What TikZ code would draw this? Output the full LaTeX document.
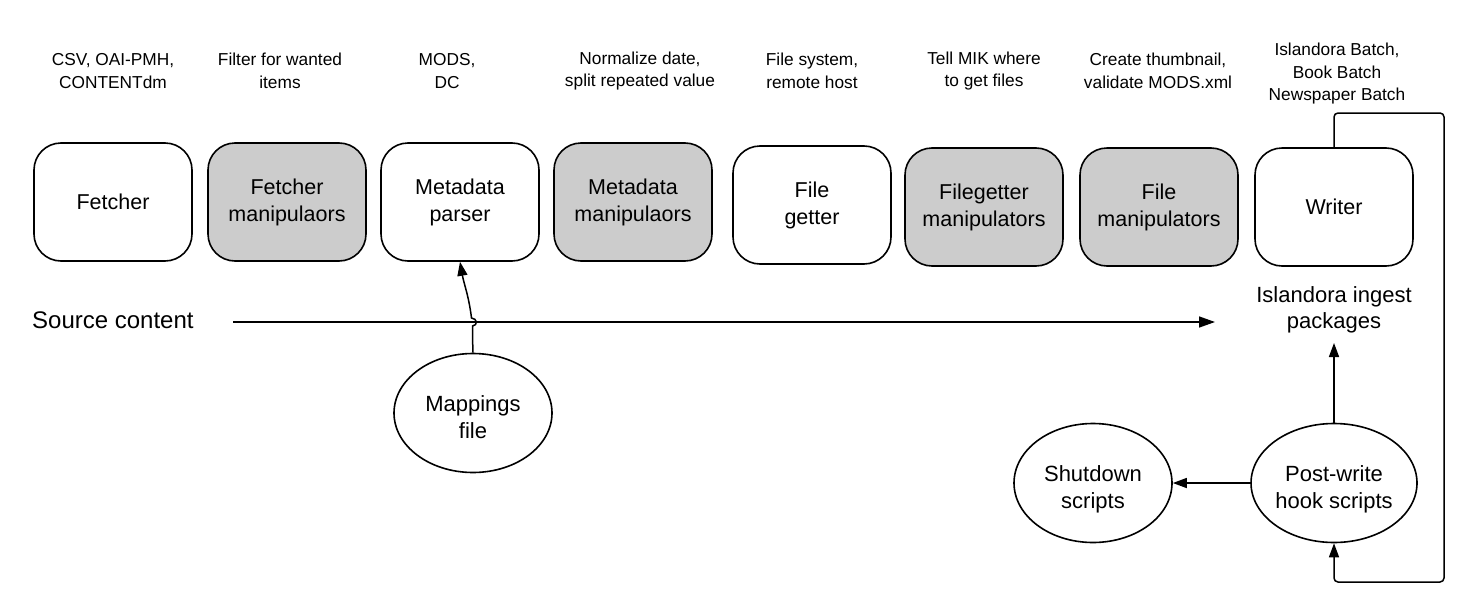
\documentclass[tikz,border=0pt]{standalone}
\usepackage{fontspec}
\setmainfont{Liberation Sans}
\usetikzlibrary{arrows.meta,shapes.geometric}
\newcommand{\ovtext}[1]{\raisebox{-6.5pt}[\height][\depth]{\begin{tabular}{@{}c@{}}#1\end{tabular}}}
\begin{document}
\begin{tikzpicture}[x=1pt,y=-1pt,
  stage/.style={draw,line width=1.6pt,rounded corners=27pt,minimum width=158pt,minimum height=118pt,align=center,font=\fontsize{21.5}{27}\selectfont},
  gstage/.style={stage,fill=black!20},
  oval/.style={draw,line width=1.6pt,ellipse,minimum width=158pt,minimum height=119pt,inner sep=0pt,font=\fontsize{22}{27}\selectfont},
  note/.style={align=center,font=\fontsize{17.3}{22.5}\selectfont},
  arr/.style={line width=1.5pt,-{Triangle[length=14pt,width=10pt]}},
  line/.style={line width=1.5pt}]
\useasboundingbox (0,0) rectangle (1477,613);
% stages
\node[stage]  (fe) at (113,202) {Fetcher};
\node[gstage] (fm) at (287,202) {Fetcher\\manipulaors};
\node[stage]  (mp) at (460,202) {Metadata\\parser};
\node[gstage] (mm) at (633,202) {Metadata\\manipulaors};
\node[stage]  (fg) at (812,205) {File\\getter};
\node[gstage] (gm) at (984,207) {Filegetter\\manipulators};
\node[gstage] (fmn) at (1159,207) {File\\manipulators};
\node[stage]  (wr) at (1334,207) {Writer};
% notes
\node[note] (n1) at (113,71) {CSV, OAI-PMH,\\CONTENTdm};
\node[note] (n2) at (280,71) {Filter for wanted\\items};
\node[note] (n3) at (447,71) {MODS,\\DC};
\node[note] (n4) at (640,71) {Normalize date,\\split repeated value};
\node[note] (n5) at (812,71) {File system,\\remote host};
\node[note] (n6) at (984,71) {Tell MIK where\\to get files};
\node[note] (n7) at (1158,71) {Create thumbnail,\\validate MODS.xml};
\node[note] (n8) at (1337,74) {Islandora Batch,\\Book Batch\\Newspaper Batch};
% source line
\node[anchor=west,inner sep=0pt,font=\fontsize{24}{28}\selectfont] (src) at (32,320) {Source content};
\coordinate (s1) at (233,322);
\coordinate (s2) at (1215,322);
\draw[line width=1.5pt,-{Triangle[length=16pt,width=11pt]}] (s1) -- (s2);
\node[anchor=south,align=center,inner xsep=4pt,inner ysep=10pt,font=\fontsize{22}{26}\selectfont] (pkg) at (1334,343) {Islandora ingest\\packages};
% ovals
\node[oval] (map) at (473,413) {\ovtext{Mappings\\file}};
\node[oval] (pw) at (1334,483) {\ovtext{Post-write\\hook scripts}};
\node[oval] (sd) at (1093,483) {\ovtext{Shutdown\\scripts}};
% mappings connector with line hop
\coordinate (h1) at (472.5,326);
\coordinate (h2) at (471.5,318);
\draw[arr] (map.north) to[out=92,in=-90] (h1) .. controls (478,325.5) and (477.5,318.5) .. (h2) to[out=97,in=-80] (mp.south);
% right side
\draw[arr] (pw.north) -- (pkg.south);
\draw[arr] (pw.west) -- (sd.east);
\draw[line,rounded corners=4pt,-{Triangle[length=14pt,width=10pt]}] (wr.north) -- (1334,113) -- (1444,113) -- (1444,582) -- (1334,582) -- (pw.south);
\end{tikzpicture}
\end{document}
